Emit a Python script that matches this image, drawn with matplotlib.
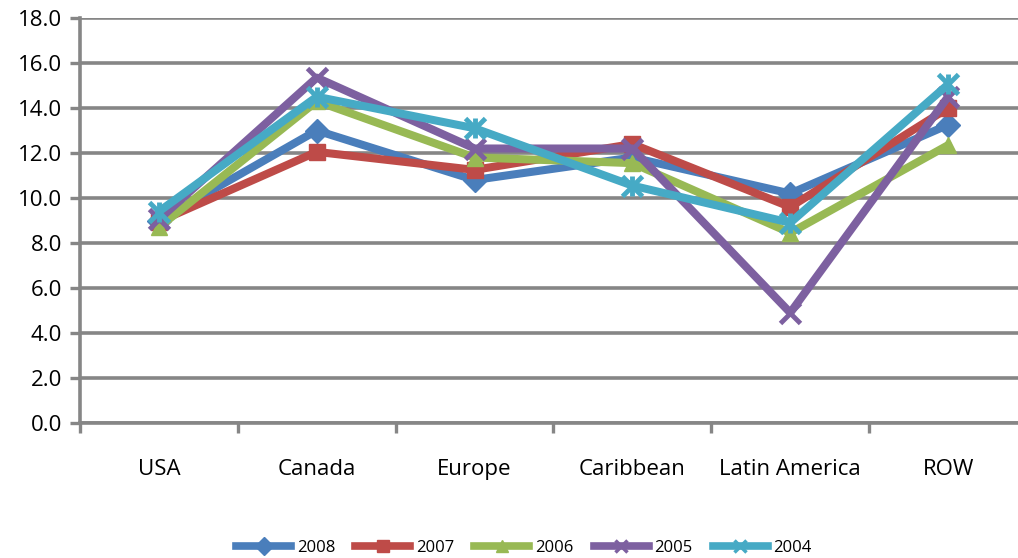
import matplotlib
matplotlib.use("Agg")
import matplotlib.pyplot as plt
from matplotlib.lines import Line2D
import numpy as np

regions = ["USA", "Canada", "Europe", "Caribbean", "Latin America", "ROW"]
years = ["2008", "2007", "2006", "2005", "2004"]

v2008 = [9.0, 13.0, 10.8, 11.8, 10.2, 13.25]
v2007 = [8.95, 12.05, 11.25, 12.4, 9.6, 14.0]
v2006 = [8.7, 14.3, 11.8, 11.55, 8.45, 12.35]
v2005 = [9.05, 15.35, 12.2, 12.2, 4.9, 14.5]
v2004 = [9.4, 14.5, 13.1, 10.55, 8.9, 15.05]

series = [v2008, v2007, v2006, v2005, v2004]
colors = ["#4A7EBB", "#BE4B48", "#98B954", "#7D60A0", "#46AAC5"]
markers = ["D", "s", "^", "x", "x"]

plt.rcParams["font.family"] = ["Open Sans", "DejaVu Sans"]

fig = plt.figure(figsize=(10.18, 5.58), dpi=100)
ax = fig.add_axes([80 / 1018, 1 - 423 / 558, 947 / 1018, 405 / 558])

x = np.arange(len(regions))
grid_c = "#868686"

for yr, vals, c, m in zip(years, series, colors, markers):
    ms = 12 if m in ("D", "s", "^") else 14
    mew = 1 if m != "x" else 3.5
    ax.plot(x, vals, color=c, lw=5.8, marker=m, markersize=ms,
            markeredgewidth=mew, markeredgecolor=c, markerfacecolor=c,
            solid_joinstyle="round", solid_capstyle="round",
            label=yr, clip_on=False, zorder=3)
    if yr == "2004":
        # asterisk style: add a vertical bar through the x marker
        ax.plot(x, vals, linestyle="none", marker="|", markersize=14,
                markeredgewidth=3.5, color=c, clip_on=False, zorder=3)

ax.set_xlim(-0.5, len(regions) - 0.5)
ax.set_ylim(0, 18)
yt = np.arange(0, 18.1, 2)
ax.set_yticks(yt)
ax.set_yticklabels([f"{v:.1f}" for v in yt], fontsize=16)
ax.yaxis.grid(True, color=grid_c, lw=2.6)
ax.set_axisbelow(True)

ax.set_xticks(x)
ax.set_xticklabels(regions, fontsize=16)
ax.tick_params(axis="x", which="major", length=0, pad=26)
ax.set_xticks(np.arange(-0.5, len(regions), 1), minor=True)
ax.tick_params(axis="x", which="minor", length=7, width=2.4, color=grid_c)
ax.tick_params(axis="y", length=7, width=2.4, color=grid_c, pad=6)

for s in ["top", "right"]:
    ax.spines[s].set_visible(False)
for s in ["left", "bottom"]:
    ax.spines[s].set_color(grid_c)
    ax.spines[s].set_linewidth(2.6)

handles = []
for yr, c, m in zip(years, colors, markers):
    handles.append(Line2D([], [], color=c, lw=5.5, marker=m, markersize=9,
                          markeredgewidth=2.5 if m == "x" else 1,
                          markeredgecolor=c, markerfacecolor=c))
fig.legend(handles, years, loc="center", bbox_to_anchor=(524 / 1018, 1 - 548 / 558),
           ncol=5, frameon=False, fontsize=12, handlelength=3.3,
           handletextpad=0.35, columnspacing=1.2, borderpad=0)

fig.savefig("out.png", dpi=100)
